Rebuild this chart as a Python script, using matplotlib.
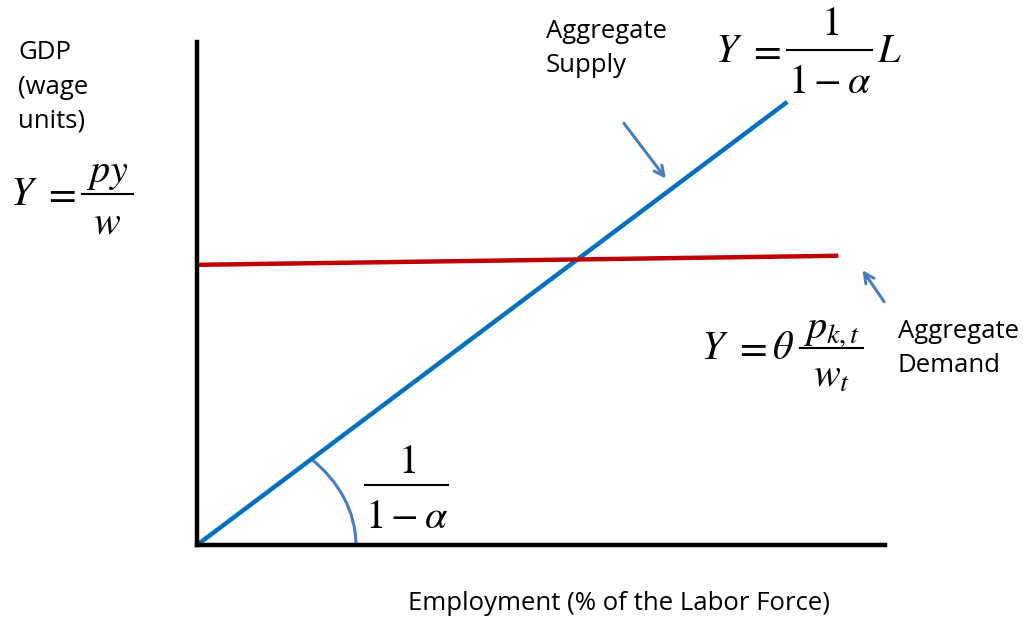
import numpy as np
import matplotlib.pyplot as plt
from matplotlib.patches import Arc
from matplotlib.lines import Line2D

plt.rcParams['mathtext.fontset'] = 'stix'
plt.rcParams['font.family'] = ['Open Sans', 'DejaVu Sans']

# employment (% of labor force) vs GDP (wage units)
as_L = [0, 85.8]
as_Y = [0, 88.1]
ad_L = [0, 93.2]
ad_Y = [55.7, 57.5]

# arrows (tail, head) pointing at the curves
as_arrow = [(61.8, 84.3), (68.4, 72.4)]
ad_arrow = [(100.1, 47.9), (96.5, 55.1)]

W, H = 1023, 621
fig = plt.figure(figsize=(W/100, H/100), dpi=100)
ax = fig.add_axes([197/W, 1 - 545/H, (885-197)/W, (545-42)/H])
ax.set_xlim(0, 100)
ax.set_ylim(0, 100)
ax.set_xticks([])
ax.set_yticks([])
for s in ['top', 'right']:
    ax.spines[s].set_visible(False)
for s in ['left', 'bottom']:
    ax.spines[s].set_linewidth(3.2)
    ax.spines[s].set_color('black')

ax.plot(as_L, as_Y, color='#0070c0', lw=3.2, solid_capstyle='butt', clip_on=False)
ax.plot(ad_L, ad_Y, color='#c00000', lw=3.2, solid_capstyle='butt', clip_on=False)

ax.add_patch(Arc((0, 0), 2*23.1, 2*24.6, theta1=0, theta2=46.5,
                 color='#4a7ebb', lw=2.2, clip_on=False))

for tail, head in [as_arrow, ad_arrow]:
    ax.annotate('', xy=head, xytext=tail, annotation_clip=False,
                arrowprops=dict(arrowstyle='->,head_length=0.7,head_width=0.35',
                                color='#4a7ebb', lw=2.2))

def fx(px):
    return px / W
def fy(py):
    return 1 - py / H

MFS = 29

def mtext(px, py, s, ha='left'):
    fig.text(fx(px), fy(py), s, fontsize=MFS, va='baseline', ha=ha)

def fraction(x0, x1, ybar, num, yn, den, yd):
    fig.add_artist(Line2D([fx(x0), fx(x1)], [fy(ybar), fy(ybar)], color='black',
                          lw=1.5, transform=fig.transFigure))
    mtext((x0 + x1) / 2, yn, num, ha='center')
    mtext((x0 + x1) / 2, yd, den, ha='center')

# labels
fig.text(fx(18), fy(40), 'GDP\n(wage\nunits)', fontsize=18.5, va='top', ha='left', linespacing=1.5)
fig.text(fx(546), fy(19), 'Aggregate\nSupply', fontsize=18.5, va='top', ha='left', linespacing=1.5)
fig.text(fx(898), fy(319), 'Aggregate\nDemand', fontsize=18.5, va='top', ha='left', linespacing=1.5)
fig.text(fx(619), fy(603), 'Employment (% of the Labor Force)', fontsize=18.5, va='center', ha='center')

# Y = py / w
mtext(10, 205, r'$Y$')
mtext(60, 205, r'$=$', ha='center')
fraction(82, 133, 194, r'$py$', 182, r'$w$', 233)

# Y = 1/(1-a) L
mtext(715, 62, r'$Y$')
mtext(765, 62, r'$=$', ha='center')
fraction(787, 872, 50, r'$1$', 35, r'$1-\alpha$', 93)
mtext(877, 62, r'$L$')

# Y = theta p_kt / w_t
mtext(701, 359, r'$Y$')
mtext(751, 359, r'$=$', ha='center')
mtext(783, 359, r'$\theta$', ha='center')
fraction(800, 863, 348, r'$p_{k,t}$', 339, r'$w_t$', 387)

# slope 1/(1-a)
fraction(365, 448, 485, r'$1$', 473, r'$1-\alpha$', 528)

fig.savefig('out.png', dpi=100)
